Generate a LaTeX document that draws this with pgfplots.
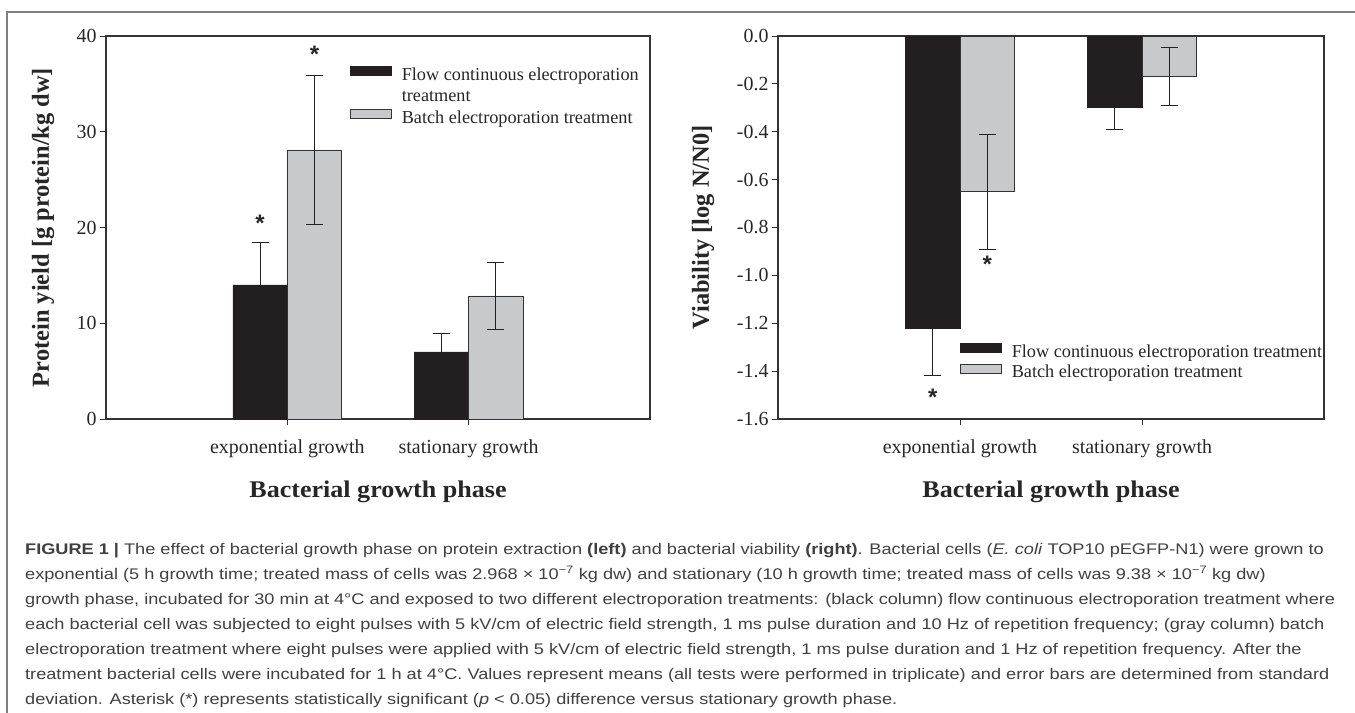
\documentclass[border=0pt]{standalone}
\usepackage{fontspec}
\setmainfont{Liberation Serif}
\newfontfamily\capfont{Liberation Sans}[FakeStretch=1.18]
\newfontfamily\xlabfont{Liberation Serif}[FakeStretch=1.09]
\newfontfamily\starfont{Liberation Sans}
\usepackage{pgfplots}
\pgfplotsset{compat=1.18}
\definecolor{barblack}{HTML}{231F20}
\definecolor{bargray}{HTML}{C8C9CA}
\definecolor{axisc}{HTML}{333333}
\definecolor{tickc}{HTML}{262626}
\definecolor{capc}{HTML}{404040}
\definecolor{framec}{HTML}{7F7F7F}

% bars: black at category-0.15, gray at category+0.15
\pgfplotstableread{
x y e
0.85 14.0 4.4
1.85 7.0 1.9
}\leftblack
\pgfplotstableread{
x y e
1.15 28.1 7.8
2.15 12.85 3.45
}\leftgray
\pgfplotstableread{
x y e
0.85 -1.22 0.20
1.85 -0.30 0.09
}\rightblack
\pgfplotstableread{
x y e
1.15 -0.65 0.24
2.15 -0.17 0.12
}\rightgray

\tikzset{astar/.style={font=\starfont\bfseries\fontsize{24}{24}\selectfont, text=tickc, inner sep=0pt}}

\pgfplotsset{
  mybase/.style={
    scale only axis, width=544bp, height=383bp,
    xmin=0, xmax=3,
    xtick={1,2}, xticklabels={exponential growth, stationary growth},
    tick align=outside, xtick pos=bottom, ytick pos=left,
    major tick length=6bp,
    axis line style={draw=axisc, line width=1.1bp},
    every tick/.style={draw=axisc, line width=1bp},
    tick label style={font=\fontsize{20}{24}\selectfont, text=tickc},
    xticklabel style={yshift=-11bp},
    ylabel style={font=\bfseries\fontsize{24.5}{28}\selectfont, text=tickc},
    xlabel style={font=\xlabfont\bfseries\fontsize{24}{28}\selectfont, text=tickc},
    xlabel={Bacterial growth phase},
    xlabel style={at={(axis description cs:0.5,-0.1906)}, anchor=center},
    legend style={draw=none, fill=none, inner sep=0pt, outer sep=0pt,
      row sep=3bp, column sep=10bp, font=\fontsize{18.3}{20}\selectfont,
      text=tickc, cells={anchor=base west},
      nodes={inner sep=0pt, text height=13bp, text depth=5bp}},
  },
  blackbar/.style={ybar, bar width=0.3, bar shift=0pt, fill=barblack,
    draw=barblack, line width=0.8bp,
    legend image code/.code={\draw[fill=barblack, draw=barblack, line width=0.8bp] (0bp,5bp) rectangle (41bp,14bp);},
    error bars/.cd, y dir=both, y explicit,
    error bar style={line width=1bp, draw=barblack},
    error mark options={rotate=90, mark size=8.5bp, line width=1bp, draw=barblack}},
  graybar/.style={ybar, bar width=0.3, bar shift=0pt, fill=bargray,
    draw=axisc, line width=0.8bp,
    legend image code/.code={\draw[fill=bargray, draw=axisc, line width=0.8bp] (0bp,5bp) rectangle (41bp,14bp);},
    error bars/.cd, y dir=both, y explicit,
    error bar style={line width=1bp, draw=barblack},
    error mark options={rotate=90, mark size=8.5bp, line width=1bp, draw=barblack}},
}

\begin{document}
\begin{tikzpicture}
\useasboundingbox (0,0) rectangle (1355bp,-713bp);
\draw[framec, line width=2bp] (7bp,-713bp) -- (7bp,-12bp) -- (1356bp,-12bp);

% Left chart
\begin{axis}[mybase,
  at={(106bp,-36bp)}, anchor=north west,
  ymin=0, ymax=40,
  ytick={0,10,20,30,40}, yticklabels={0,10,20,30,40},
  ylabel={Protein yield [g protein/kg dw]},
  ylabel style={at={(axis description cs:-0.1158,0.5)}, anchor=center},
  legend style={at={(axis description cs:0.4485,0.9216)}, anchor=north west},
]
\addplot[blackbar] table[x=x, y=y, y error=e] {\leftblack};
\addlegendentry{Flow continuous electroporation}
\addlegendimage{empty legend}
\addlegendentry{treatment}
\addplot[graybar] table[x=x, y=y, y error=e] {\leftgray};
\addlegendentry{Batch electroporation treatment}
\node[astar] at (axis cs:0.85,20.4) {*};
\node[astar] at (axis cs:1.15,38.1) {*};
\end{axis}

% Right chart
\begin{axis}[mybase,
  at={(778bp,-36bp)}, anchor=north west, width=546bp,
  ymin=-1.6, ymax=0,
  ytick={-1.6,-1.4,-1.2,-1.0,-0.8,-0.6,-0.4,-0.2,0},
  yticklabels={-1.6,-1.4,-1.2,-1.0,-0.8,-0.6,-0.4,-0.2,0.0},
  ylabel={Viability [log N/N0]},
  ylabel style={at={(axis description cs:-0.1374,0.5)}, anchor=center},
  legend style={at={(axis description cs:0.3333,0.198)}, anchor=north west, row sep=1bp},
]
\addplot[blackbar] table[x=x, y=y, y error=e] {\rightblack};
\addlegendentry{Flow continuous electroporation treatment}
\addplot[graybar] table[x=x, y=y, y error=e] {\rightgray};
\addlegendentry{Batch electroporation treatment}
\node[astar] at (axis cs:0.85,-1.51) {*};
\node[astar] at (axis cs:1.15,-0.955) {*};
\end{axis}

% Caption
\begin{scope}[every node/.style={anchor=base west, inner sep=0pt, text=capc,
  font=\capfont\fontsize{15.45}{25}\selectfont}]
\node at (25bp,-554bp) {\textbf{FIGURE 1 |} The effect of bacterial growth phase on protein extraction \textbf{(left)} and bacterial viability \textbf{(right)}. Bacterial cells (\textit{E. coli} TOP10 pEGFP-N1) were grown to};
\node at (25bp,-579bp) {exponential (5 h growth time; treated mass of cells was 2.968 × 10\textsuperscript{−7} kg dw) and stationary (10 h growth time; treated mass of cells was 9.38 × 10\textsuperscript{−7} kg dw)};
\node at (25bp,-604bp) {growth phase, incubated for 30 min at 4°C and exposed to two different electroporation treatments: (black column) flow continuous electroporation treatment where};
\node at (25bp,-629bp) {each bacterial cell was subjected to eight pulses with 5 kV/cm of electric field strength, 1 ms pulse duration and 10 Hz of repetition frequency; (gray column) batch};
\node at (25bp,-654bp) {electroporation treatment where eight pulses were applied with 5 kV/cm of electric field strength, 1 ms pulse duration and 1 Hz of repetition frequency. After the};
\node at (25bp,-679bp) {treatment bacterial cells were incubated for 1 h at 4°C. Values represent means (all tests were performed in triplicate) and error bars are determined from standard};
\node at (25bp,-704bp) {deviation. Asterisk (*) represents statistically significant (\textit{p} < 0.05) difference versus stationary growth phase.};
\end{scope}
\end{tikzpicture}
\end{document}
